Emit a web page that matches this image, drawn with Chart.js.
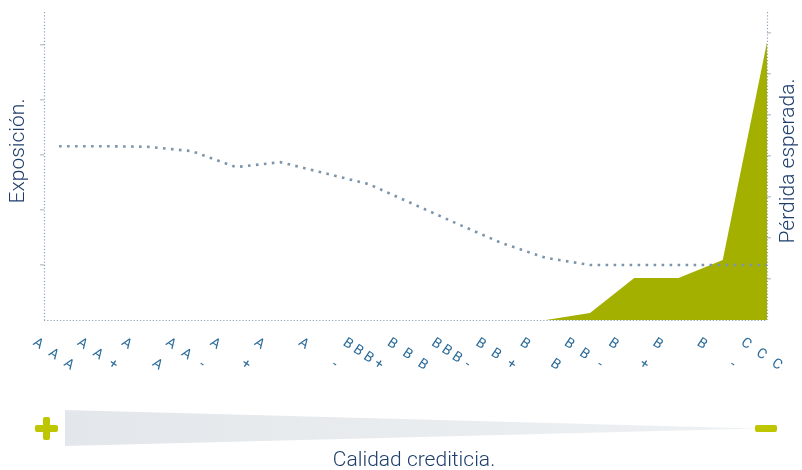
<!DOCTYPE html>
<html>
<head>
<meta charset="utf-8">
<script src="https://cdn.jsdelivr.net/npm/chart.js@4/dist/chart.umd.min.js"></script>
<style>
html,body{margin:0;padding:0;background:#fff;}
#wrap{width:802px;height:470px;position:relative;}
</style>
</head>
<body>
<div id="wrap"><canvas id="c" width="802" height="470"></canvas></div>
<script>
// ---- data ----
const ratings = ['AAA','AA+','AA','AA-','A+','A','A-','BBB+','BBB','BBB-','BB+','BB','BB-','B+','B','B-','CCC'];
const exposure = [3.16,3.16,3.15,3.07,2.78,2.87,2.67,2.47,2.11,1.75,1.40,1.13,1.0,1.0,1.0,1.0,1.0];
const expectedLoss = [null,null,null,null,null,null,null,null,null,null,null,0,0.17,1.02,1.02,1.46,6.77];
const exposureTicks = [1,2,3,4,5];
const lossTicks = [1,2,3,4,5,6,7];
const leftTitle = 'Exposición.';
const rightTitle = 'Pérdida esperada.';
const bottomTitle = 'Calidad crediticia.';

const NAVY = '#1d3d6b';
const LABEL = '#2b6b99';
const OLIVE = '#a4b000';
const LIME = '#bec600';
const AXIS = '#8ea2b8';

// dotted axis lines along the library's scales
const dottedAxes = {
  id: 'dottedAxes',
  beforeDatasetsDraw(chart) {
    const ctx = chart.ctx;
    const {x, yL, yR} = chart.scales;
    ctx.save();
    ctx.strokeStyle = AXIS;
    ctx.lineWidth = 1.2;
    ctx.setLineDash([1.2, 2]);
    ctx.beginPath();
    ctx.moveTo(x.left, yL.bottom + 0.5);
    ctx.lineTo(x.right, yL.bottom + 0.5);
    ctx.moveTo(yL.right + 0.5, yL.top);
    ctx.lineTo(yL.right + 0.5, yL.bottom);
    ctx.stroke();
    ctx.restore();
  },
  afterDatasetsDraw(chart) {
    const ctx = chart.ctx;
    const {yR} = chart.scales;
    ctx.save();
    ctx.strokeStyle = AXIS;
    ctx.lineWidth = 1.2;
    ctx.setLineDash([1.2, 2]);
    ctx.beginPath();
    ctx.moveTo(yR.left + 0.5, yR.top);
    ctx.lineTo(yR.left + 0.5, yR.bottom);
    ctx.stroke();
    ctx.restore();
  }
};

const decor = {
  id: 'decor',
  afterDraw(chart) {
    const ctx = chart.ctx;
    const xs = chart.scales.x;
    const ang = 34 * Math.PI / 180;
    const dx = Math.cos(ang), dy = Math.sin(ang);
    const L = 37;
    ctx.save();
    ctx.font = '400 14px Roboto';
    ctx.fillStyle = LABEL;
    ctx.textAlign = 'center';
    ctx.textBaseline = 'middle';
    ratings.forEach((s, i) => {
      const chars = s.split('');
      const n = chars.length;
      const x0 = xs.getPixelForValue(i) - 21;
      const y0 = xs.bottom + 24;
      chars.forEach((ch, k) => {
        const t = n > 1 ? k / (n - 1) : 0;
        const x = x0 + dx * L * t, y = y0 + dy * L * t;
        ctx.save();
        ctx.translate(x, y);
        ctx.rotate(ang);
        ctx.fillText(ch, 0, 0);
        ctx.restore();
      });
    });
    ctx.restore();

    // axis titles
    ctx.save();
    ctx.fillStyle = NAVY;
    ctx.font = '300 21px Roboto';
    ctx.textAlign = 'center';
    ctx.textBaseline = 'middle';
    ctx.save();
    ctx.translate(19, 151);
    ctx.rotate(-Math.PI / 2);
    ctx.fillText(leftTitle, 0, 0);
    ctx.restore();
    ctx.save();
    ctx.translate(789, 161);
    ctx.rotate(-Math.PI / 2);
    ctx.fillText(rightTitle, 0, 0);
    ctx.restore();
    ctx.fillText(bottomTitle, 414, 461);
    ctx.restore();

    // quality wedge
    ctx.save();
    const g = ctx.createLinearGradient(65, 0, 760, 0);
    g.addColorStop(0, '#e3e7eb');
    g.addColorStop(1, '#eef1f3');
    ctx.fillStyle = g;
    ctx.beginPath();
    ctx.moveTo(65, 410);
    ctx.lineTo(65, 446);
    ctx.lineTo(758, 428.5);
    ctx.closePath();
    ctx.fill();
    ctx.fillStyle = LIME;
    const r = (x, y, w, h, rad) => { ctx.beginPath(); ctx.roundRect(x, y, w, h, rad); ctx.fill(); };
    r(35, 425, 23, 7, 2);
    r(43, 417, 7, 23, 2);
    r(755, 425, 22, 7, 2);
    ctx.restore();
  }
};

new Chart(document.getElementById('c'), {
  type: 'line',
  data: {
    datasets: [
      {
        label: 'Exposición',
        data: exposure.map((v, i) => ({x: i, y: v})),
        yAxisID: 'yL',
        borderColor: '#7b95ac',
        borderWidth: 2.6,
        borderDash: [2.6, 5.4],
        pointRadius: 0,
        fill: false,
        order: 0
      },
      {
        label: 'Pérdida esperada',
        data: expectedLoss.map((v, i) => ({x: i, y: v})),
        yAxisID: 'yR',
        backgroundColor: OLIVE,
        borderColor: OLIVE,
        borderWidth: 0,
        pointRadius: 0,
        fill: 'origin',
        order: 1
      }
    ]
  },
  options: {
    responsive: false,
    animation: false,
    devicePixelRatio: 1,
    layout: {padding: {left: 40, right: 31, top: 12, bottom: 150}},
    plugins: {legend: {display: false}, tooltip: {enabled: false}},
    scales: {
      x: {
        type: 'linear',
        min: -0.34, max: 16,
        ticks: {display: false},
        grid: {display: false, drawTicks: false},
        border: {display: false}
      },
      yL: {
        position: 'left',
        min: 0, max: 5.6,
        ticks: {display: false, stepSize: 1},
        afterBuildTicks: (s) => { s.ticks = exposureTicks.map(v => ({value: v})); },
        grid: {drawOnChartArea: false, drawTicks: true, tickLength: 4, color: '#c3cad2', lineWidth: 1.5},
        border: {display: false}
      },
      yR: {
        position: 'right',
        min: 0, max: 7.5,
        ticks: {display: false, stepSize: 1},
        afterBuildTicks: (s) => { s.ticks = lossTicks.map(v => ({value: v})); },
        grid: {drawOnChartArea: false, drawTicks: true, tickLength: 4, color: '#c3cad2', lineWidth: 1.5},
        border: {display: false}
      }
    }
  },
  plugins: [dottedAxes, decor]
});
</script>
</body>
</html>
